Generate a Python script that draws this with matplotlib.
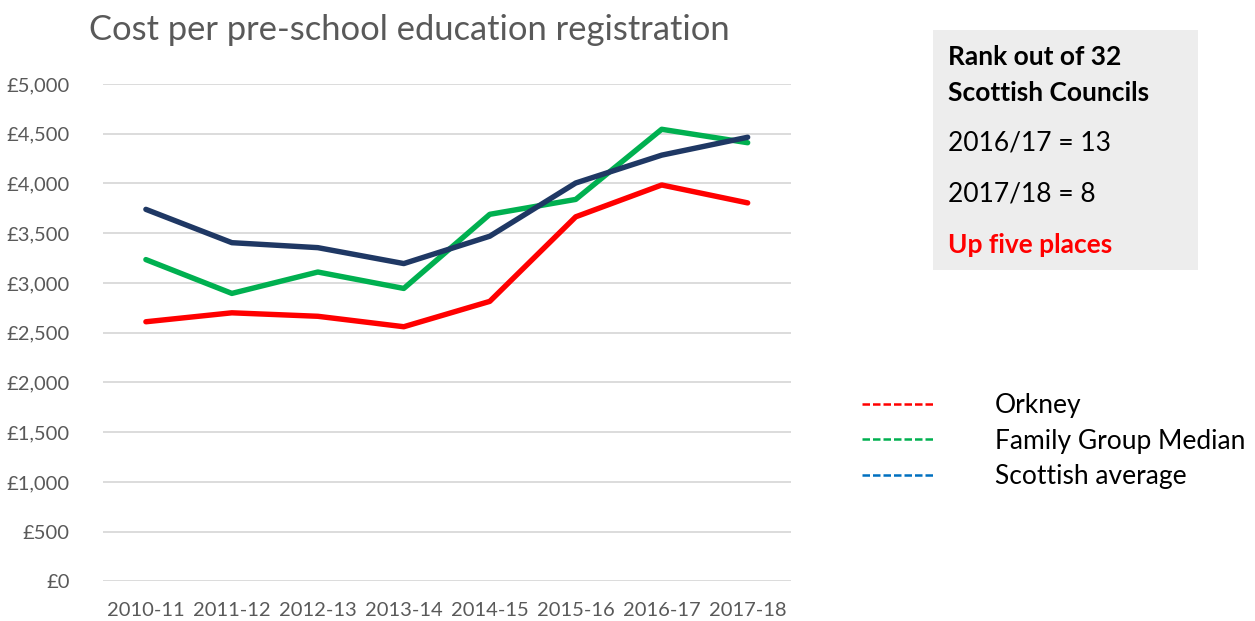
import matplotlib.pyplot as plt
from matplotlib.lines import Line2D
from matplotlib.patches import Rectangle
from matplotlib.ticker import FuncFormatter

years = ['2010-11', '2011-12', '2012-13', '2013-14', '2014-15', '2015-16', '2016-17', '2017-18']
orkney = [2610, 2700, 2665, 2560, 2815, 3665, 3985, 3805]
family_median = [3235, 2895, 3110, 2945, 3690, 3840, 4545, 4410]
scottish_avg = [3740, 3405, 3355, 3195, 3470, 4005, 4285, 4465]

series_names = ['Orkney', 'Family Group Median', 'Scottish average']
line_colors = ['#ff0000', '#00b050', '#1f3864']
legend_colors = ['#ff0000', '#00b050', '#0070c0']

plt.rcParams['font.family'] = ['Lato', 'DejaVu Sans']

fig = plt.figure(figsize=(12.55, 6.21), dpi=100)
ax = fig.add_axes([0.082, 0.0638, 0.548, 0.8009])

x = range(len(years))
for vals, c in zip([orkney, family_median, scottish_avg], line_colors):
    ax.plot(x, vals, color=c, linewidth=3.9, solid_capstyle='round', zorder=3)

ax.set_xlim(-0.5, len(years) - 0.5)
ax.set_ylim(0, 5000)
ax.set_yticks(range(0, 5001, 500))
ax.yaxis.set_major_formatter(FuncFormatter(lambda v, p: '£{:,.0f}'.format(v)))
ax.set_xticks(list(x))
ax.set_xticklabels(years)
ax.tick_params(length=0, labelsize=14.5, labelcolor='#595959')
ax.tick_params(axis='x', pad=15)
ax.tick_params(axis='y', pad=24)
ax.grid(axis='y', color='#d9d9d9', linewidth=1.3)
ax.set_axisbelow(True)
for s in ax.spines.values():
    s.set_visible(False)

fig.text(0.071, 0.952, 'Cost per pre-school education registration', fontsize=24.8,
         color='#595959', va='center', ha='left')

# rank box
fig.patches.append(Rectangle((933 / 1255, 1 - 270 / 621), 265 / 1255, 240 / 621,
                             transform=fig.transFigure, facecolor='#ededed',
                             edgecolor='none'))
box_lines = [('Rank out of 32', 'bold', 'black', 57),
             ('Scottish Councils', 'bold', 'black', 93),
             ('2016/17 = 13', 'normal', 'black', 143),
             ('2017/18 = 8', 'normal', 'black', 194),
             ('Up five places', 'bold', '#ff0000', 245)]
for txt, w, c, y in box_lines:
    fig.text(948 / 1255, 1 - y / 621, txt, fontsize=19, fontweight=w, color=c,
             va='center', ha='left')

handles = [Line2D([0], [0], color=c, linestyle=(0, (3, 1.2)), linewidth=1.8)
           for c in legend_colors]
fig.legend(handles, series_names, loc='center left',
           bbox_to_anchor=(838 / 1255, 1 - 441 / 621), frameon=False,
           fontsize=19, handlelength=2.7, handletextpad=2.35, labelspacing=0.4)

plt.savefig('out.png', dpi=100)
